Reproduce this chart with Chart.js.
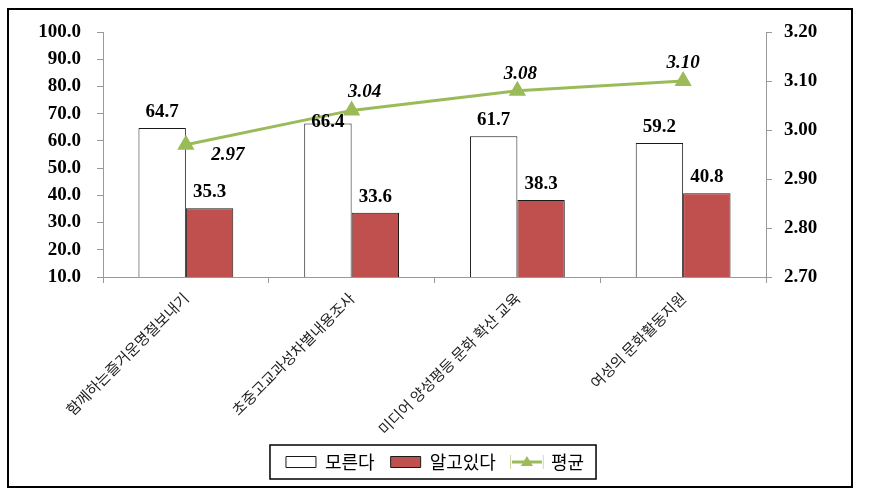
<!DOCTYPE html>
<html>
<head>
<meta charset="utf-8">
<script src="https://cdn.jsdelivr.net/npm/chart.js@4/dist/chart.umd.min.js"></script>
<style>
    html, body { margin: 0; padding: 0; background: #fff; }
    #wrap { width: 870px; height: 495px; position: relative; }
</style>
</head>
<body>
<div id="wrap"><canvas id="chart" width="870" height="495"></canvas></div>
<script>
// chart data
const categories = ['함께하는즐거운명절보내기', '초중고교과성차별내용조사', '미디어 양성평등 문화 확산 교육', '여성의 문화활동지원'];
const unknownValues = [64.7, 66.4, 61.7, 59.2];
const knownValues = [35.3, 33.6, 38.3, 40.8];
const averageValues = [2.97, 3.04, 3.08, 3.10];
const seriesNames = ['모른다', '알고있다', '평균'];

const SERIF = '"Liberation Serif", "Times New Roman", serif';
const KFONT = '"Noto Sans CJK KR", "Noto Sans", sans-serif';
const GREEN = '#9BBB59';

// label placement tweaks (pixels) to mimic the original layout
const avgLabelShift = [[42, 10], [13, -18], [3, -17], [0, -18]];
const barLabelShift = [[0, 0], [0, 15], [0, 0], [0, 0]];

const valueLabels = {
    id: 'valueLabels',
    afterDatasetsDraw(chart) {
        const ctx = chart.ctx;
        ctx.save();
        ctx.fillStyle = '#000';
        ctx.textAlign = 'center';
        ctx.textBaseline = 'middle';

        [0, 1].forEach(di => {
            const meta = chart.getDatasetMeta(di);
            ctx.font = 'bold 19px ' + SERIF;
            meta.data.forEach((bar, i) => {
                const v = chart.data.datasets[di].data[i];
                const shift = di === 0 ? barLabelShift[i] : [0, 0];
                ctx.fillText(v.toFixed(1), bar.x + shift[0], bar.y - 16 + shift[1]);
            });
        });

        const lineMeta = chart.getDatasetMeta(2);
        ctx.font = 'italic bold 19px ' + SERIF;
        lineMeta.data.forEach((pt, i) => {
            const v = chart.data.datasets[2].data[i];
            ctx.fillText(v.toFixed(2), pt.x + avgLabelShift[i][0], pt.y + avgLabelShift[i][1]);
        });
        ctx.restore();
    }
};

const frames = {
    id: 'frames',
    afterDraw(chart) {
        const ctx = chart.ctx;
        ctx.save();
        ctx.strokeStyle = '#000';
        ctx.lineWidth = 2;
        ctx.strokeRect(8, 9, 844, 478);

        const items = chart.legend.legendHitBoxes;
        const boxW = chart.options.plugins.legend.labels.boxWidth;
        if (items && items.length) {
            const left = Math.min(...items.map(b => b.left)) - 16;
            const right = Math.max(...items.map(b => b.left + b.width)) + 12;
            const top = items[0].top - 8;
            const bottom = items[0].top + items[0].height + 8;
            ctx.lineWidth = 1.5;
            ctx.strokeRect(left, top, right - left, bottom - top);

            // swap the line series' box for a line with a triangle marker
            const hb = items[2];
            const cy = hb.top + hb.height / 2;
            ctx.fillStyle = '#fff';
            ctx.fillRect(hb.left - 1, cy - 8, boxW + 2, 16);
            ctx.strokeStyle = GREEN;
            ctx.lineWidth = 3;
            ctx.beginPath();
            ctx.moveTo(hb.left, cy);
            ctx.lineTo(hb.left + boxW, cy);
            ctx.stroke();
            const mx = hb.left + boxW / 2;
            ctx.fillStyle = GREEN;
            ctx.beginPath();
            ctx.moveTo(mx, cy - 6);
            ctx.lineTo(mx + 6, cy + 4);
            ctx.lineTo(mx - 6, cy + 4);
            ctx.closePath();
            ctx.fill();
        }
        ctx.restore();
    }
};

new Chart(document.getElementById('chart'), {
    data: {
        labels: categories,
        datasets: [
            {
                type: 'bar',
                label: seriesNames[0],
                data: unknownValues,
                backgroundColor: '#ffffff',
                borderColor: '#1a1a1a',
                borderWidth: 1,
                yAxisID: 'y',
                order: 1
            },
            {
                type: 'bar',
                label: seriesNames[1],
                data: knownValues,
                backgroundColor: '#C0504D',
                borderColor: '#1a1a1a',
                borderWidth: 1,
                yAxisID: 'y',
                order: 1
            },
            {
                type: 'line',
                label: seriesNames[2],
                data: averageValues,
                borderColor: GREEN,
                backgroundColor: GREEN,
                borderWidth: 3,
                pointStyle: 'triangle',
                pointRadius: 7,
                pointBackgroundColor: GREEN,
                pointBorderColor: GREEN,
                tension: 0,
                yAxisID: 'y1',
                order: 0
            }
        ]
    },
    options: {
        responsive: false,
        animation: false,
        datasets: {
            bar: { categoryPercentage: 0.572, barPercentage: 1.0 }
        },
        layout: { padding: { left: 30, right: 30, top: 32, bottom: 14 } },
        plugins: {
            tooltip: { enabled: false },
            legend: {
                position: 'bottom',
                labels: {
                    sort: (a, b) => a.datasetIndex - b.datasetIndex,
                    color: '#000',
                    boxWidth: 30,
                    boxHeight: 11,
                    padding: 16,
                    font: { family: KFONT, size: 18 }
                }
            }
        },
        scales: {
            x: {
                grid: { drawOnChartArea: false, color: '#999', tickLength: 6 },
                border: { color: '#999' },
                ticks: {
                    color: '#222',
                    minRotation: 45,
                    maxRotation: 45,
                    padding: 6,
                    font: { family: KFONT, size: 15 }
                },
                afterFit(scale) { scale.height = 160; }
            },
            y: {
                position: 'left',
                min: 10,
                max: 100,
                grid: { drawOnChartArea: false, color: '#999', tickLength: 6 },
                border: { color: '#999' },
                ticks: {
                    stepSize: 10,
                    color: '#000',
                    padding: 16,
                    font: { family: SERIF, size: 19, weight: 'bold' },
                    callback: v => v.toFixed(1)
                },
                afterFit(scale) { scale.width = 73; }
            },
            y1: {
                position: 'right',
                min: 2.7,
                max: 3.2,
                grid: { drawOnChartArea: false, color: '#999', tickLength: 6 },
                border: { color: '#999' },
                ticks: {
                    stepSize: 0.1,
                    color: '#000',
                    padding: 12,
                    font: { family: SERIF, size: 19, weight: 'bold' },
                    callback: v => v.toFixed(2)
                },
                afterFit(scale) { scale.width = 74; }
            }
        }
    },
    plugins: [valueLabels, frames]
});
</script>
</body>
</html>
